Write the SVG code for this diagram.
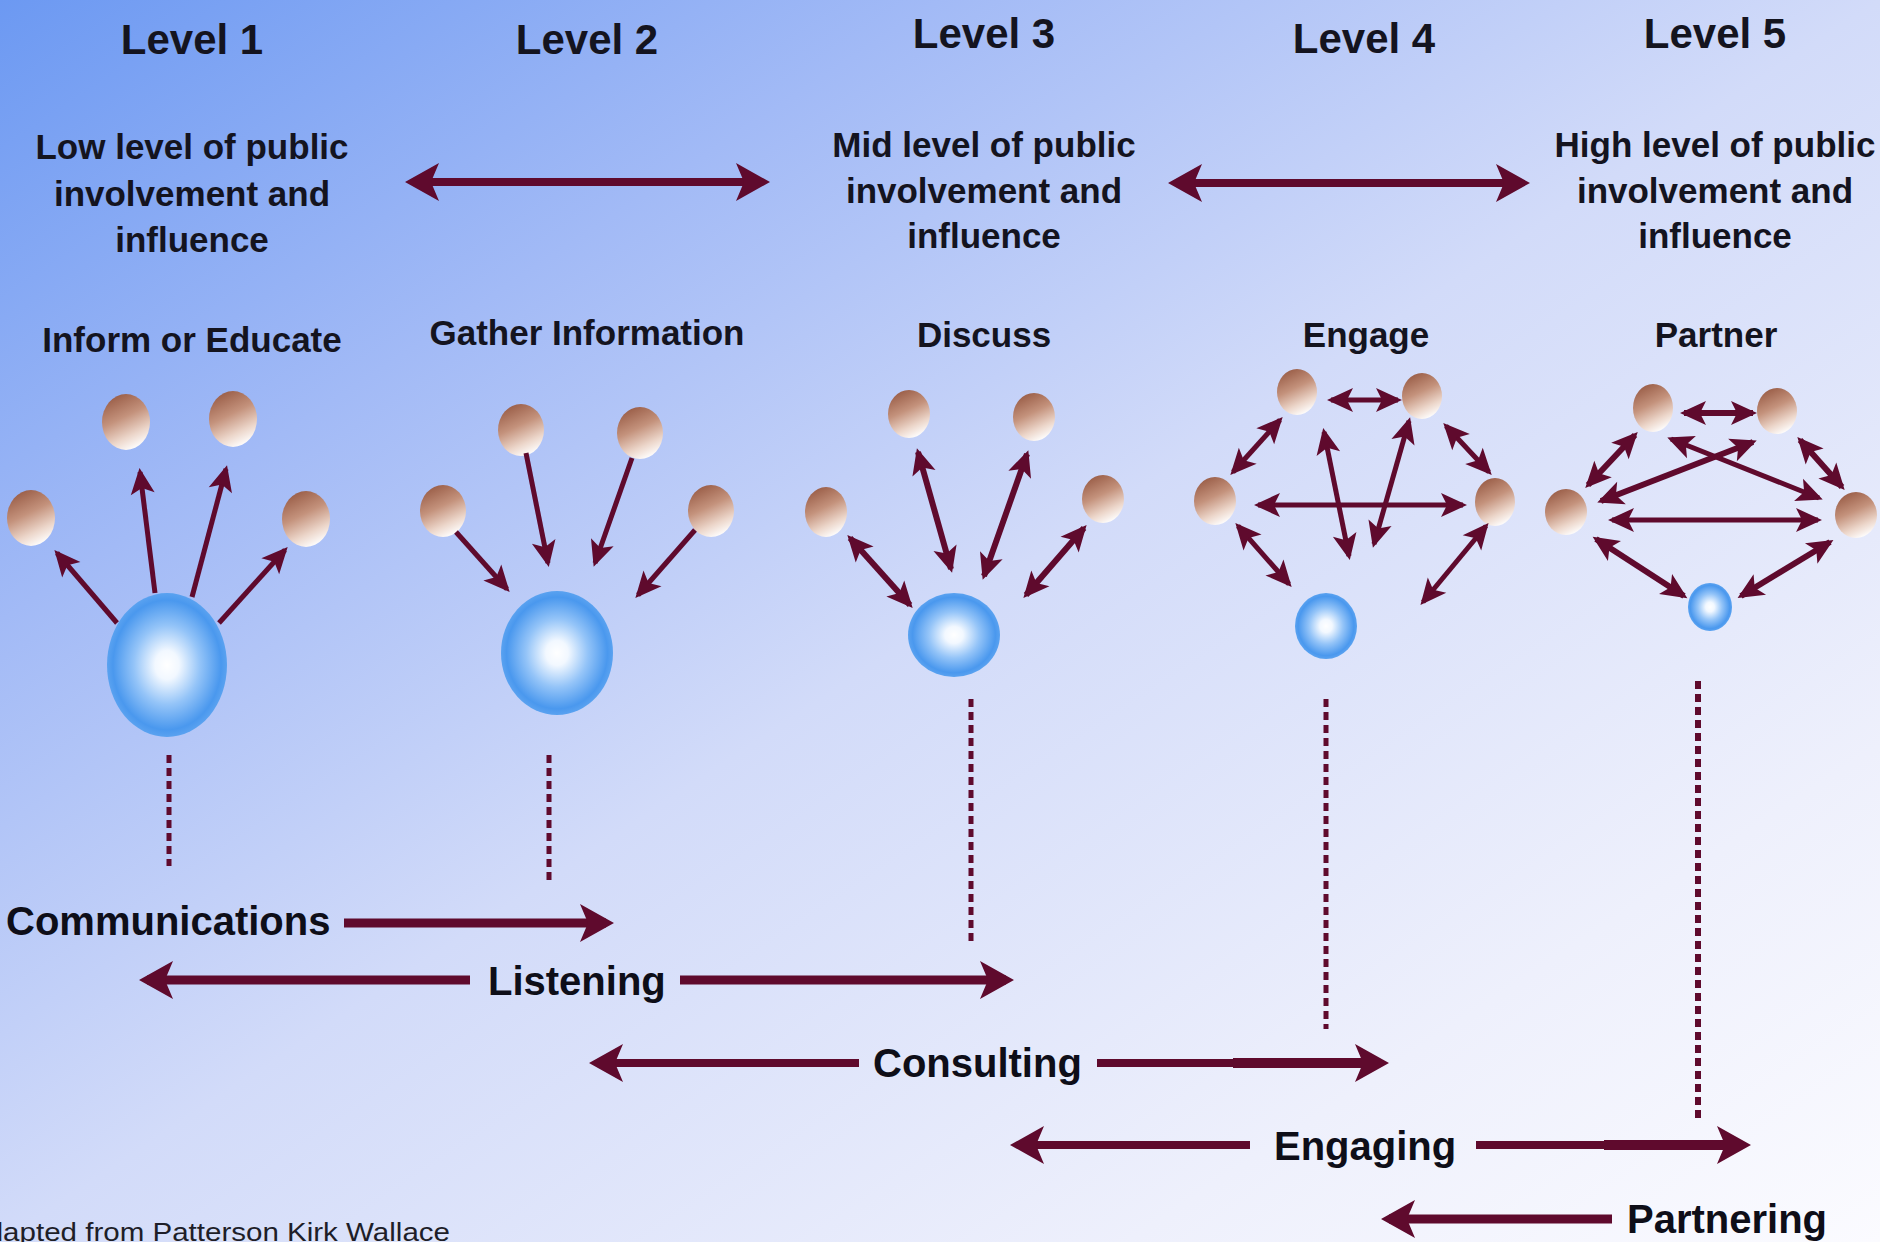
<svg xmlns="http://www.w3.org/2000/svg" width="1880" height="1242" viewBox="0 0 1880 1242">
  <style>
    .title { font-family: "Liberation Sans", Arial, sans-serif; font-weight: bold; font-size: 42px; fill: #14141f; text-anchor: middle; }
    .desc { font-family: "Liberation Sans", Arial, sans-serif; font-weight: bold; font-size: 35px; fill: #14141f; text-anchor: middle; }
    .phase { font-family: "Liberation Sans", Arial, sans-serif; font-weight: bold; font-size: 40px; fill: #0e0e18; }
    .credit { font-family: "Liberation Sans", Arial, sans-serif; font-size: 26px; fill: #1e1e28; }
    .ball { fill: url(#ballGrad); }
    .core { fill: url(#coreGrad); }
    .big { stroke: #5f0a2d; stroke-width: 8; fill: none; }
    .thin { stroke: #5f0a2d; stroke-width: 5; fill: none; }
    .mid { stroke: #5f0a2d; stroke-width: 6; fill: none; }
    .dots { stroke: #5f0a2d; stroke-width: 5; stroke-dasharray: 8 5; fill: none; }
    .one { marker-end: url(#hs); }
    .two { marker-start: url(#hs); marker-end: url(#hs); }
    .bone { marker-end: url(#hb); }
    .bstart { marker-start: url(#hb); }
    .btwo { marker-start: url(#hb); marker-end: url(#hb); }
  </style>
  <defs>
    <linearGradient id="bg" x1="0" y1="0" x2="1" y2="1">
      <stop offset="0" stop-color="#6c99f2"/>
      <stop offset="0.25" stop-color="#a2baf6"/>
      <stop offset="0.5" stop-color="#d2dbf9"/>
      <stop offset="0.8" stop-color="#eef0fc"/>
      <stop offset="1" stop-color="#fbfbff"/>
    </linearGradient>
    <linearGradient id="ballGrad" x1="0.25" y1="0.05" x2="0.65" y2="1">
      <stop offset="0" stop-color="#9c604a"/>
      <stop offset="0.4" stop-color="#c4927c"/>
      <stop offset="0.75" stop-color="#ecd6ca"/>
      <stop offset="1" stop-color="#ffffff"/>
    </linearGradient>
    <radialGradient id="coreGrad" cx="0.5" cy="0.5" r="0.5">
      <stop offset="0" stop-color="#ffffff"/>
      <stop offset="0.2" stop-color="#f2f8ff"/>
      <stop offset="0.55" stop-color="#94c4f8"/>
      <stop offset="0.9" stop-color="#4a98ee"/>
      <stop offset="1" stop-color="#5aa2f0"/>
    </radialGradient>
    <marker id="hs" markerUnits="userSpaceOnUse" orient="auto-start-reverse" refX="0" refY="0" markerWidth="1" markerHeight="1" overflow="visible">
      <path d="M4,0 L-22,-12 L-16,0 L-22,12 Z" fill="#5f0a2d"/>
    </marker>
    <marker id="hb" markerUnits="userSpaceOnUse" orient="auto-start-reverse" refX="0" refY="0" markerWidth="1" markerHeight="1" overflow="visible">
      <path d="M8,0 L-26,-19 L-18,0 L-26,19 Z" fill="#5f0a2d"/>
    </marker>
  </defs>

  <!-- background wash -->
  <rect x="0" y="0" width="1880" height="1242" fill="url(#bg)"/>

  <!-- column 1 -->
  <g id="level1">
    <text class="title" x="192" y="54">Level 1</text>
    <text class="desc" x="192" y="159">Low level of public</text>
    <text class="desc" x="192" y="206">involvement and</text>
    <text class="desc" x="192" y="252">influence</text>
    <text class="desc" x="192" y="352">Inform or Educate</text>
    <ellipse class="ball" cx="31" cy="518" rx="24" ry="28"/>
    <ellipse class="ball" cx="126" cy="422" rx="24" ry="28"/>
    <ellipse class="ball" cx="233" cy="419" rx="24" ry="28"/>
    <ellipse class="ball" cx="306" cy="519" rx="24" ry="28"/>
    <ellipse class="core" cx="167" cy="665" rx="60" ry="72"/>
  </g>

  <!-- column 2 -->
  <g id="level2">
    <text class="title" x="587" y="54">Level 2</text>
    <text class="desc" x="587" y="345">Gather Information</text>
    <ellipse class="ball" cx="443" cy="511" rx="23" ry="26"/>
    <ellipse class="ball" cx="521" cy="430" rx="23" ry="26"/>
    <ellipse class="ball" cx="640" cy="433" rx="23" ry="26"/>
    <ellipse class="ball" cx="711" cy="511" rx="23" ry="26"/>
    <ellipse class="core" cx="557" cy="653" rx="56" ry="62"/>
  </g>

  <!-- column 3 -->
  <g id="level3">
    <text class="title" x="984" y="48">Level 3</text>
    <text class="desc" x="984" y="157">Mid level of public</text>
    <text class="desc" x="984" y="203">involvement and</text>
    <text class="desc" x="984" y="248">influence</text>
    <text class="desc" x="984" y="347">Discuss</text>
    <ellipse class="ball" cx="826" cy="512" rx="21" ry="25"/>
    <ellipse class="ball" cx="909" cy="414" rx="21" ry="24"/>
    <ellipse class="ball" cx="1034" cy="417" rx="21" ry="24"/>
    <ellipse class="ball" cx="1103" cy="499" rx="21" ry="24"/>
    <ellipse class="core" cx="954" cy="635" rx="46" ry="42"/>
  </g>

  <!-- column 4 -->
  <g id="level4">
    <text class="title" x="1364" y="53">Level 4</text>
    <text class="desc" x="1366" y="347">Engage</text>
    <ellipse class="ball" cx="1297" cy="392" rx="20" ry="23"/>
    <ellipse class="ball" cx="1422" cy="396" rx="20" ry="23"/>
    <ellipse class="ball" cx="1215" cy="501" rx="21" ry="24"/>
    <ellipse class="ball" cx="1495" cy="502" rx="20" ry="24"/>
    <ellipse class="core" cx="1326" cy="626" rx="31" ry="33"/>
  </g>

  <!-- column 5 -->
  <g id="level5">
    <text class="title" x="1715" y="48">Level 5</text>
    <text class="desc" x="1715" y="157">High level of public</text>
    <text class="desc" x="1715" y="203">involvement and</text>
    <text class="desc" x="1715" y="248">influence</text>
    <text class="desc" x="1716" y="347">Partner</text>
    <ellipse class="ball" cx="1653" cy="408" rx="20" ry="24"/>
    <ellipse class="ball" cx="1777" cy="411" rx="20" ry="23"/>
    <ellipse class="ball" cx="1566" cy="512" rx="21" ry="23"/>
    <ellipse class="ball" cx="1856" cy="515" rx="21" ry="23"/>
    <ellipse class="core" cx="1710" cy="607" rx="22" ry="24"/>
  </g>

  <!-- phase labels -->
  <g id="communications"><text class="phase" x="6" y="935">Communications</text></g>
  <g id="listening"><text class="phase" x="488" y="995">Listening</text></g>
  <g id="consulting"><text class="phase" x="873" y="1077">Consulting</text></g>
  <g id="engaging"><text class="phase" x="1274" y="1160">Engaging</text></g>
  <g id="partnering"><text class="phase" x="1627" y="1233">Partnering</text></g>

  <g id="credit"><text class="credit" x="-33" y="1241" textLength="483" lengthAdjust="spacingAndGlyphs">Adapted from Patterson Kirk Wallace</text></g>

  <g id="connectors">
    <!-- involvement scale -->
    <line class="big btwo" x1="413" y1="182" x2="762" y2="182"/>
    <line class="big btwo" x1="1176" y1="183" x2="1522" y2="183"/>

    <!-- column 1: outward -->
    <line class="thin one" x1="117" y1="623" x2="57" y2="553"/>
    <line class="thin one" x1="155" y1="593" x2="140" y2="472"/>
    <line class="thin one" x1="192" y1="597" x2="226" y2="469"/>
    <line class="thin one" x1="219" y1="623" x2="285" y2="550"/>

    <!-- column 2: inward -->
    <line class="thin one" x1="456" y1="532" x2="507" y2="589"/>
    <line class="thin one" x1="526" y1="453" x2="548" y2="563"/>
    <line class="thin one" x1="632" y1="458" x2="595" y2="563"/>
    <line class="thin one" x1="695" y1="530" x2="638" y2="595"/>

    <!-- column 3: two-way -->
    <line class="mid two" x1="850" y1="538" x2="910" y2="605"/>
    <line class="mid two" x1="918" y1="452" x2="951" y2="569"/>
    <line class="mid two" x1="1027" y1="454" x2="984" y2="576"/>
    <line class="mid two" x1="1084" y1="528" x2="1026" y2="595"/>

    <!-- column 4: network -->
    <line class="thin two" x1="1331" y1="400" x2="1398" y2="400"/>
    <line class="thin two" x1="1233" y1="472" x2="1280" y2="420"/>
    <line class="thin two" x1="1446" y1="426" x2="1489" y2="472"/>
    <line class="thin two" x1="1258" y1="505" x2="1463" y2="505"/>
    <line class="thin two" x1="1324" y1="432" x2="1349" y2="556"/>
    <line class="thin two" x1="1409" y1="421" x2="1374" y2="544"/>
    <line class="thin two" x1="1238" y1="526" x2="1289" y2="584"/>
    <line class="thin two" x1="1486" y1="526" x2="1423" y2="602"/>

    <!-- column 5: network -->
    <line class="mid two" x1="1684" y1="413" x2="1753" y2="413"/>
    <line class="mid two" x1="1588" y1="485" x2="1635" y2="435"/>
    <line class="mid two" x1="1800" y1="440" x2="1842" y2="487"/>
    <line class="thin two" x1="1612" y1="520" x2="1818" y2="520"/>
    <line class="mid two" x1="1601" y1="501" x2="1753" y2="442"/>
    <line class="thin two" x1="1671" y1="439" x2="1819" y2="498"/>
    <line class="mid two" x1="1596" y1="539" x2="1684" y2="596"/>
    <line class="mid two" x1="1830" y1="542" x2="1741" y2="596"/>

    <!-- drop lines -->
    <line class="dots" x1="169" y1="755" x2="169" y2="866"/>
    <line class="dots" x1="549" y1="755" x2="549" y2="881"/>
    <line class="dots" x1="971" y1="699" x2="971" y2="941"/>
    <line class="dots" x1="1326" y1="699" x2="1326" y2="1029"/>
    <line class="dots" x1="1698" y1="681" x2="1698" y2="1121" style="stroke-width:6"/>

    <!-- phase spans -->
    <line class="big bone" x1="344" y1="923" x2="606" y2="923" style="stroke-width:9"/>
    <line class="big bstart" x1="147" y1="980" x2="470" y2="980" style="stroke-width:9"/>
    <line class="big bone" x1="680" y1="980" x2="1006" y2="980" style="stroke-width:9"/>
    <line class="big bstart" x1="597" y1="1063" x2="859" y2="1063"/>
    <line class="big bone" x1="1097" y1="1063" x2="1381" y2="1063"/>
    <line class="big" x1="1233" y1="1063" x2="1375" y2="1063" style="stroke-width:10"/>
    <line class="big bstart" x1="1018" y1="1145" x2="1250" y2="1145"/>
    <line class="big bone" x1="1476" y1="1145" x2="1743" y2="1145"/>
    <line class="big" x1="1604" y1="1145" x2="1737" y2="1145" style="stroke-width:10"/>
    <line class="big bstart" x1="1389" y1="1219" x2="1612" y2="1219" style="stroke-width:9"/>
  </g>
</svg>
